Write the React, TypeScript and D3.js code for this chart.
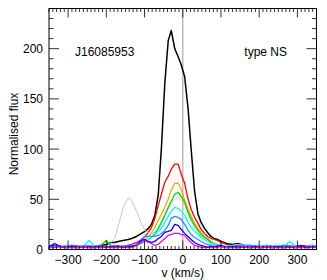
import { useMemo } from "react";
import * as d3 from "d3";

// velocity channels (km/s), shared by all spectra
const VEL = [
  -350, -335, -320, -305, -290, -275, -260, -245, -230, -215,
  -200, -187, -178, -169, -156, -143, -134, -121, -108, -99,
  -90, -82, -73, -64, -56, -47, -38, -30, -21, -12,
  -4, 5, 14, 22, 31, 40, 48, 57, 65, 74,
  82, 91, 100, 115, 130, 145, 160, 175, 190, 205,
  220, 235, 250, 265, 280, 295, 310, 325, 340, 350,
];

const BLACK = [
  3, 4, 3, 3, 4, 3, 3, 3, 3, 4,
  5, 7, 7, 8, 9, 10, 11, 13, 16, 18,
  21, 25, 34, 55, 100, 165, 208, 218, 200, 192,
  184, 172, 140, 100, 58, 35, 27, 21, 17, 13,
  11, 10, 8, 6, 5, 6, 4, 4, 3, 3,
  4, 3, 3, 4, 3, 3, 4, 3, 4, 3,
];
const RED = [
  2, 3, 2, 3, 2, 3, 2, 3, 2, 3,
  3, 3, 3, 4, 3, 4, 5, 7, 10, 13,
  17, 22, 31, 44, 55, 67, 73, 80, 85, 85,
  75, 66, 50, 40, 32, 26, 20, 16, 13, 11,
  10, 9, 7, 5, 3, 4, 3, 2, 3, 2,
  3, 2, 3, 2, 3, 3, 2, 3, 2, 3,
];
const ORANGE = [
  3, 2, 3, 2, 3, 2, 3, 2, 3, 2,
  3, 2, 3, 3, 4, 3, 4, 5, 7, 10,
  13, 16, 22, 29, 35, 42, 50, 59, 66, 66,
  60, 49, 40, 33, 26, 21, 17, 13, 11, 8,
  6, 5, 4, 3, 3, 2, 3, 3, 2, 3,
  2, 3, 3, 2, 3, 2, 3, 2, 3, 2,
];
const GREEN = [
  2, 3, 3, 2, 3, 3, 2, 3, 3, 4,
  9, 3, 3, 2, 3, 3, 3, 4, 6, 8,
  10, 12, 16, 21, 27, 34, 42, 48, 55, 57,
  53, 47, 37, 30, 24, 19, 15, 12, 10, 7,
  5, 4, 3, 3, 2, 3, 2, 3, 3, 2,
  3, 2, 3, 3, 2, 3, 3, 2, 3, 3,
];
const GREY = [
  2, 2, 3, 2, 2, 3, 2, 2, 3, 2,
  3, 7, 11, 23, 42, 51, 49, 38, 26, 19,
  17, 16, 17, 20, 26, 33, 40, 46, 50, 52,
  49, 45, 35, 28, 22, 17, 13, 10, 8, 6,
  5, 4, 3, 3, 2, 2, 3, 2, 2, 3,
  2, 2, 3, 2, 2, 3, 2, 2, 3, 2,
];
const CYAN = [
  3, 3, 2, 4, 3, 2, 3, 9, 3, 2,
  3, 3, 2, 3, 3, 4, 3, 5, 6, 8,
  10, 12, 15, 18, 21, 27, 33, 38, 42, 41,
  38, 34, 27, 22, 18, 15, 12, 10, 8, 6,
  5, 4, 4, 3, 4, 5, 4, 3, 4, 3,
  4, 3, 4, 3, 8, 3, 2, 3, 4, 3,
];
const DODGER = [
  2, 3, 3, 2, 4, 3, 3, 2, 3, 3,
  2, 3, 4, 3, 3, 4, 3, 5, 10, 13,
  13, 13, 13, 14, 16, 19, 24, 31, 33, 32,
  30, 25, 19, 15, 12, 10, 8, 6, 5, 4,
  3, 4, 3, 2, 3, 2, 3, 4, 3, 2,
  3, 3, 2, 3, 3, 2, 3, 3, 2, 3,
];
const BLUE = [
  3, 6, 3, 2, 3, 2, 3, 3, 2, 3,
  2, 3, 2, 3, 2, 3, 3, 4, 9, 10,
  8, 7, 8, 11, 13, 17, 18, 19, 25, 24,
  20, 16, 13, 10, 7, 5, 4, 3, 2, 3,
  2, 3, 4, 2, 3, 2, 3, 2, 3, 2,
  3, 2, 3, 2, 3, 2, 3, 2, 3, 2,
];
const MAGENTA = [
  2, 2, 3, 2, 2, 2, 3, 2, 2, 2,
  3, 2, 2, 2, 3, 2, 2, 4, 7, 9,
  7, 6, 4, 5, 8, 11, 14, 15, 16, 16,
  15, 14, 10, 7, 4, 3, 2, 2, 3, 2,
  2, 2, 3, 2, 2, 2, 3, 2, 2, 2,
  3, 2, 2, 2, 3, 2, 2, 3, 2, 2,
];

const SERIES = [
  { values: BLACK, color: "#000000", width: 1.5 },
  { values: RED, color: "#ff0000", width: 1.3 },
  { values: ORANGE, color: "#ffa500", width: 1.3 },
  { values: GREY, color: "#c8c8c8", width: 1 },
  { values: GREEN, color: "#00dd00", width: 1.3 },
  { values: CYAN, color: "#00ffff", width: 1.3 },
  { values: DODGER, color: "#1e90ff", width: 1.3 },
  { values: BLUE, color: "#0000ff", width: 1.3 },
  { values: MAGENTA, color: "#ff00ff", width: 1.3 },
];

const X_LABELS = [-300, -200, -100, 0, 100, 200, 300];
const Y_LABELS = [0, 50, 100, 150, 200];

const W = 327;
const H = 280;
const FONT = "'Liberation Sans', Arial, sans-serif";

export default function App() {
  const m = { left: 49, right: 10.5, top: 8.5, bottom: 30.5 };
  const x = d3.scaleLinear().domain([-350, 350]).range([m.left, W - m.right]);
  const y = d3.scaleLinear().domain([0, 240]).range([H - m.bottom, m.top]);

  const line = useMemo(
    () =>
      d3
        .line<number>()
        .x((_, i) => x(VEL[i]))
        .y((d) => y(d)),
    []
  );

  const xMinor = d3.range(-350, 351, 10);
  const yMinor = d3.range(0, 241, 10);
  const x0 = x.range()[0], x1 = x.range()[1];
  const yb = y.range()[0], yt = y.range()[1];

  return (
    <div style={{ position: "absolute", left: 0, top: 0 }}>
      <svg width={W} height={H} style={{ display: "block", background: "#fff" }}>
        <defs>
          <clipPath id="plot">
            <rect x={x0} y={yt} width={x1 - x0} height={yb - yt} />
          </clipPath>
        </defs>
        {/* zero velocity marker */}
        <line x1={x(0)} x2={x(0)} y1={yt} y2={yb} stroke="#bdbdbd" strokeWidth={1.5} />
        <g clipPath="url(#plot)">
          {SERIES.map((s, i) => (
            <path
              key={i}
              d={line(s.values) ?? ""}
              fill="none"
              stroke={s.color}
              strokeWidth={s.width}
              strokeLinejoin="round"
            />
          ))}
        </g>
        {/* ticks, inward on all sides */}
        <g stroke="#000" strokeWidth={0.8}>
          {xMinor.map((v) => {
            const major = v % 100 === 0;
            const len = major ? 9 : 3.5;
            return (
              <g key={"x" + v}>
                <line x1={x(v)} x2={x(v)} y1={yb} y2={yb - len} />
                <line x1={x(v)} x2={x(v)} y1={yt} y2={yt + len} />
              </g>
            );
          })}
          {yMinor.map((v) => {
            const major = v % 50 === 0;
            const len = major ? 10 : 4.5;
            return (
              <g key={"y" + v}>
                <line x1={x0} x2={x0 + len} y1={y(v)} y2={y(v)} />
                <line x1={x1} x2={x1 - len} y1={y(v)} y2={y(v)} />
              </g>
            );
          })}
        </g>
        <rect x={x0} y={yt} width={x1 - x0} height={yb - yt} fill="none" stroke="#000" strokeWidth={1} />
        <g fontFamily={FONT} fontSize={12} fill="#000">
          {X_LABELS.map((v) => (
            <text key={v} x={x(v)} y={yb + 14} textAnchor="middle">
              {v < 0 ? "\u2212" + Math.abs(v) : v}
            </text>
          ))}
          {Y_LABELS.map((v) => (
            <text key={v} x={x0 - 6} y={y(v) + 4.5} textAnchor="end">
              {v}
            </text>
          ))}
          <text x={x(0)} y={276.5} textAnchor="middle">v (km/s)</text>
          <text transform={`translate(18,${(yb + yt) / 2 + 5}) rotate(-90)`} textAnchor="middle">
            Normalised flux
          </text>
          <text x={75} y={56}>J16085953</text>
          <text x={287} y={56} textAnchor="end">type NS</text>
        </g>
      </svg>
    </div>
  );
}
